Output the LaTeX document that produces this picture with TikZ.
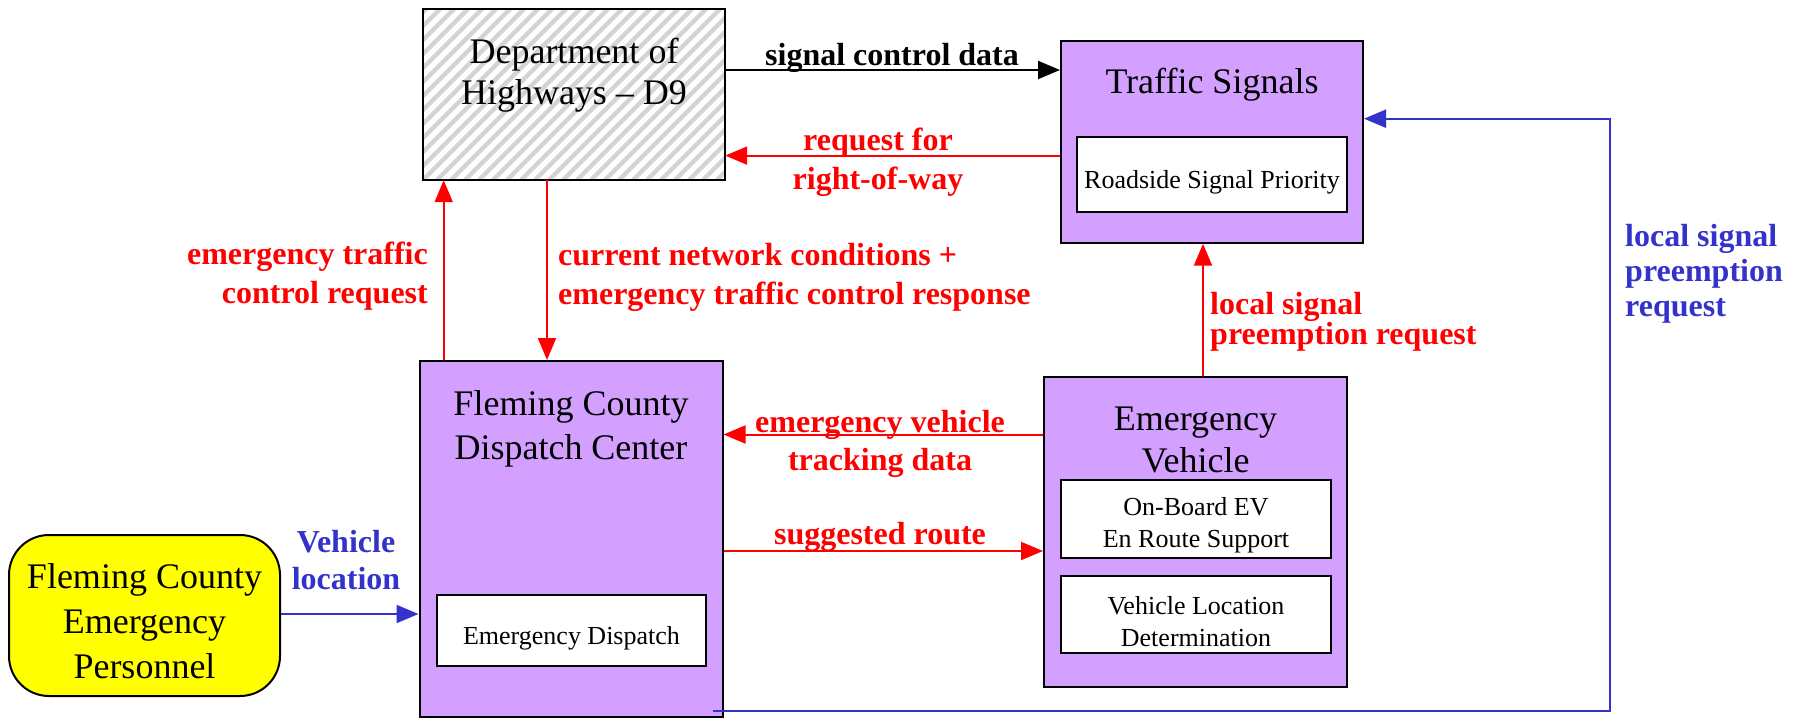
\documentclass[tikz,border=0pt]{standalone}
\usepackage{fontspec}
\setmainfont{Liberation Serif}
\usetikzlibrary{arrows.meta}
\definecolor{boxpurple}{RGB}{212,160,255}
\definecolor{flowblue}{RGB}{51,51,204}
\definecolor{flowred}{RGB}{255,0,0}
\definecolor{hatchgray}{RGB}{212,212,212}
\definecolor{persyellow}{RGB}{255,255,0}
\tikzset{
  ent/.style={draw=black, line width=2pt, fill=boxpurple, inner sep=0pt},
  inner/.style={draw=black, line width=2pt, fill=white, inner sep=0pt},
  ttl/.style={align=center, font=\fontsize{36}{42}\selectfont, inner sep=0pt},
  sub/.style={align=center, font=\fontsize{26}{32}\selectfont, inner sep=0pt},
  lbl/.style={font=\bfseries\fontsize{32}{38}\selectfont, inner sep=0pt},
  flow/.style={line width=2pt, -{Triangle[length=22pt,width=18pt]}},
}
\begin{document}
\begin{tikzpicture}[x=1pt,y=-1pt]
\useasboundingbox (0,0) rectangle (1807,719);
% Department of Highways (hatched)
\node[draw=none, fill=white, minimum width=302pt, minimum height=171pt, inner sep=0pt] (dept) at (574,94.5) {};
\begin{scope}
\clip (423,9) rectangle (725,180);
\foreach \i in {-182,-168,...,320}
  \draw[hatchgray, line width=4.5pt] (423+\i,180) -- ++(171,-171);
\end{scope}
\draw[line width=2pt] (dept.south west) rectangle (dept.north east);
\node[ttl] (depttxt) at (574,75) {Department of\\[-1pt]Highways -- D9};

% Traffic Signals
\node[ent, minimum width=302pt, minimum height=201.5pt] (ts) at (1212,142) {};
\node[ttl] (tstxt) at (1212,84.5) {Traffic Signals};
\node[inner, minimum width=270pt, minimum height=75pt] (tsin) at (1212,174.5) {};
\node[sub] (tsintxt) at (1212,182.5) {Roadside Signal Priority};

% Dispatch Center
\node[ent, minimum width=303pt, minimum height=356pt] (disp) at (571,539) {};
\node[ttl] (disptxt) at (571,428.5) {Fleming County\\[2pt]Dispatch Center};
\node[inner, minimum width=269pt, minimum height=71pt] (dispin) at (571.5,630.5) {};
\node[sub] (dispintxt) at (571.5,638.5) {Emergency Dispatch};

% Emergency Vehicle
\node[ent, minimum width=303pt, minimum height=310pt] (ev) at (1195.5,532) {};
\node[ttl] (evtxt) at (1195.5,439.5) {Emergency\\Vehicle};
\node[inner, minimum width=270pt, minimum height=77.5pt] (evin1) at (1196,519) {};
\node[sub] (evin1txt) at (1196,525.5) {On-Board EV\\En Route Support};
\node[inner, minimum width=270pt, minimum height=77pt] (evin2) at (1196,614.5) {};
\node[sub] (evin2txt) at (1196,621.5) {Vehicle Location\\Determination};

% Personnel
\node[draw=black, line width=2pt, fill=persyellow, rounded corners=40pt, minimum width=271pt, minimum height=161pt, inner sep=0pt] (pers) at (144.5,615.5) {};
\node[ttl, font=\fontsize{36}{45}\selectfont] (perstxt) at (144.5,621.5) {Fleming County\\Emergency\\Personnel};

% Flows
\draw[flow, black] (dept.east |- 0,70) -- (ts.west |- 0,70);
\node[lbl, black] (l1) at (892,57.5) {signal control data};

\draw[flow, flowred] (ts.west |- 0,155.6) -- (dept.east |- 0,155.6);
\node[lbl, flowred] (l2a) at (878,142.5) {request for};
\node[lbl, flowred] (l2b) at (878,182) {right-of-way};

\draw[flow, flowred] (disp.north -| 443.7,0) -- (dept.south -| 443.7,0);
\node[lbl, flowred, align=right, anchor=east, font=\bfseries\fontsize{32}{39}\selectfont] (l3) at (428,276.5) {emergency traffic\\control request};

\draw[flow, flowred] (dept.south -| 547,0) -- (disp.north -| 547,0);
\node[lbl, flowred, align=left, anchor=west, font=\bfseries\fontsize{32}{39}\selectfont] (l4) at (558,277.5) {current network conditions +\\emergency traffic control response};

\draw[flow, flowred] (ev.north -| 1203,0) -- (ts.south -| 1203,0);
\node[lbl, flowred, align=left, anchor=west, font=\bfseries\fontsize{32}{30}\selectfont] (l5) at (1210,321.5) {local signal\\preemption request};

\draw[flow, flowred] (ev.west |- 0,434.5) -- (disp.east |- 0,434.5);
\node[lbl, flowred, align=center] (l6) at (880,443.5) {emergency vehicle\\tracking data};

\draw[flow, flowred] (disp.east |- 0,551) -- (ev.west |- 0,551);
\node[lbl, flowred] (l7) at (880,537) {suggested route};

\draw[flow, flowblue] (pers.east |- 0,614) -- (disp.west |- 0,614);
\node[lbl, flowblue, align=center, font=\bfseries\fontsize{32}{37}\selectfont] (l8) at (346,560) {Vehicle\\location};

\coordinate (bstart) at (713,710.7);
\coordinate (bcorner1) at (1610,710.7);
\coordinate (bcorner2) at (1610,118.7);
\draw[flow, flowblue] (bstart) -- (bcorner1) -- (bcorner2) -- (ts.east |- bcorner2);
\node[lbl, flowblue, align=left, anchor=west, font=\bfseries\fontsize{32}{35}\selectfont] (l9) at (1625,274) {local signal\\preemption\\request};
\end{tikzpicture}
\end{document}
